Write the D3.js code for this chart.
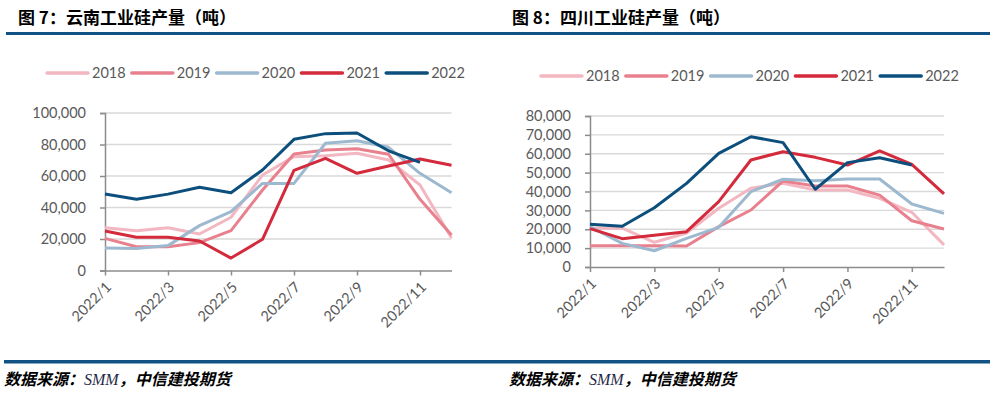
<!DOCTYPE html>
<html>
<head>
<meta charset="utf-8">
<script src="https://cdn.jsdelivr.net/npm/d3@7"></script>
<style>
  body { margin: 0; background: #fff; }
  svg { display: block; }
</style>
</head>
<body>
<svg id="chart"></svg>
<script>
// Categories and labels
const months = ['2022/1', '2022/2', '2022/3', '2022/4', '2022/5', '2022/6',
                '2022/7', '2022/8', '2022/9', '2022/10', '2022/11', '2022/12'];
const tickLabels = ['2022/1', '2022/3', '2022/5', '2022/7', '2022/9', '2022/11'];
const years = ['2018', '2019', '2020', '2021', '2022'];

// Yunnan output (tonnes)
const yunnan2018 = [27200, 25300, 27200, 23200, 33800, 60600, 72300, 72900, 74400, 70200, 54300, 20600];
const yunnan2019 = [20400, 15100, 15100, 17700, 25300, 51100, 74000, 76500, 77300, 73800, 45200, 22500];
const yunnan2020 = [14300, 13900, 15800, 28500, 37400, 55300, 55300, 80800, 82400, 78200, 61700, 49400];
const yunnan2021 = [25100, 21100, 21100, 18700, 7900, 19800, 63600, 71200, 61700, 66300, 70800, 66800];
const yunnan2022 = [48600, 45200, 48500, 52800, 49400, 63800, 83300, 86900, 87300, 76000, 68700];

// Sichuan output (tonnes)
const sichuan2018 = [20500, 20600, 13100, 18000, 31100, 41700, 44300, 40800, 40800, 36400, 29000, 11700];
const sichuan2019 = [11300, 11300, 11300, 11100, 21400, 30200, 45600, 42900, 42900, 38100, 24500, 20100];
const sichuan2020 = [21400, 12500, 8600, 15200, 21000, 39900, 46500, 45700, 46600, 46600, 33400, 28400];
const sichuan2021 = [20300, 15000, 16800, 18700, 34600, 56700, 61100, 58100, 54000, 61500, 54400, 38700];
const sichuan2022 = [22600, 21600, 31400, 44300, 60200, 69000, 65900, 41200, 55300, 57900, 54000];

const colors = ['#F2B7C0', '#E8808E', '#9DB9CF', '#D32A3C', '#0C4F7D'];
const ruleColor = '#0F5283';
const textColor = '#595959';
const numFont = 'Lato, "Open Sans", sans-serif';
const cjkFont = '"Noto Sans CJK SC", sans-serif';

const width = 995;
const height = 397;

const svg = d3.select('#chart')
    .attr('width', width)
    .attr('height', height);

// Header and footer rules
svg.append('rect').attr('x', 6).attr('y', 32).attr('width', 984).attr('height', 3).attr('fill', ruleColor);
svg.append('rect').attr('x', 4).attr('y', 360).attr('width', 986).attr('height', 3.5).attr('fill', ruleColor);

function drawPanel(p) {
    const g = svg.append('g');

    // Title
    g.append('text')
        .attr('x', p.titleX)
        .attr('y', 24)
        .attr('font-family', cjkFont)
        .attr('font-weight', 'bold')
        .attr('font-size', 17)
        .attr('fill', '#000')
        .text(p.title);

    // Source note
    const note = g.append('text')
        .attr('x', p.noteX)
        .attr('y', 385)
        .attr('font-family', cjkFont)
        .attr('font-weight', 'bold')
        .attr('font-style', 'italic')
        .attr('font-size', 16)
        .attr('fill', '#000');
    note.append('tspan').text('数据来源：');
    note.append('tspan')
        .attr('font-family', '"Liberation Serif", serif')
        .attr('font-weight', 'normal')
        .attr('fill', '#1F2A4A')
        .text('SMM');
    note.append('tspan').text('，中信建投期货');

    const x = d3.scalePoint()
        .domain(months)
        .range([p.left, p.right]);

    const y = d3.scaleLinear()
        .domain([0, p.yMax])
        .range([p.bottom, p.top]);

    // Gridlines
    g.append('g')
        .selectAll('line')
        .data(y.ticks(p.yTicks).filter(d => d > 0))
        .join('line')
        .attr('x1', p.left)
        .attr('x2', p.right)
        .attr('y1', d => y(d))
        .attr('y2', d => y(d))
        .attr('stroke', '#D9D9D9')
        .attr('stroke-width', 1.3);

    // Y axis
    const yAxis = g.append('g')
        .attr('transform', `translate(${p.left},0)`)
        .call(d3.axisLeft(y).ticks(p.yTicks).tickSize(5).tickPadding(14).tickFormat(d3.format(',')));
    yAxis.select('.domain').attr('stroke', '#8C8C8C').attr('stroke-width', 1.5);
    yAxis.selectAll('.tick line').attr('stroke', '#8C8C8C').attr('stroke-width', 1.5);
    yAxis.selectAll('.tick text')
        .attr('font-family', numFont)
        .attr('font-size', 14.5)
        .attr('fill', textColor);

    // X axis
    const xAxis = g.append('g')
        .attr('transform', `translate(0,${p.bottom})`)
        .call(d3.axisBottom(x).tickValues(tickLabels).tickSizeInner(5).tickSizeOuter(0));
    xAxis.select('.domain').attr('stroke', '#8C8C8C').attr('stroke-width', 1.5);
    xAxis.selectAll('.tick line').attr('stroke', '#8C8C8C').attr('stroke-width', 1.5);
    xAxis.selectAll('.tick text')
        .attr('font-family', numFont)
        .attr('font-size', 14.5)
        .attr('fill', textColor)
        .attr('text-anchor', 'end')
        .attr('x', 0)
        .attr('y', 0)
        .attr('dy', '0.35em')
        .attr('transform', 'translate(3,14) rotate(-45)');

    // Series lines
    const line = d3.line()
        .x((d, i) => x(months[i]))
        .y(d => y(d));

    p.series.forEach((values, i) => {
        g.append('path')
            .datum(values)
            .attr('fill', 'none')
            .attr('stroke', colors[i])
            .attr('stroke-width', 3)
            .attr('stroke-linejoin', 'round')
            .attr('d', line);
    });

    // Legend
    const legend = g.append('g');
    years.forEach((yr, i) => {
        const lx = p.legendX + i * p.legendStep;
        legend.append('line')
            .attr('x1', lx)
            .attr('x2', lx + 41)
            .attr('y1', p.legendY)
            .attr('y2', p.legendY)
            .attr('stroke', colors[i])
            .attr('stroke-width', 3.5)
            .attr('stroke-linecap', 'round');
        legend.append('text')
            .attr('x', lx + 45)
            .attr('y', p.legendY)
            .attr('dy', '0.35em')
            .attr('font-family', numFont)
            .attr('font-size', 14.5)
            .attr('fill', textColor)
            .text(yr);
    });
}

drawPanel({
    title: '图 7：云南工业硅产量（吨）',
    titleX: 18,
    noteX: 4,
    left: 105,
    right: 451.5,
    top: 113,
    bottom: 270.5,
    yMax: 100000,
    yTicks: 5,
    legendX: 47,
    legendStep: 84.8,
    legendY: 73,
    series: [yunnan2018, yunnan2019, yunnan2020, yunnan2021, yunnan2022]
});

drawPanel({
    title: '图 8：四川工业硅产量（吨）',
    titleX: 512,
    noteX: 509,
    left: 590,
    right: 944,
    top: 116,
    bottom: 267,
    yMax: 80000,
    yTicks: 8,
    legendX: 541,
    legendStep: 84.8,
    legendY: 76,
    series: [sichuan2018, sichuan2019, sichuan2020, sichuan2021, sichuan2022]
});
</script>
</body>
</html>
